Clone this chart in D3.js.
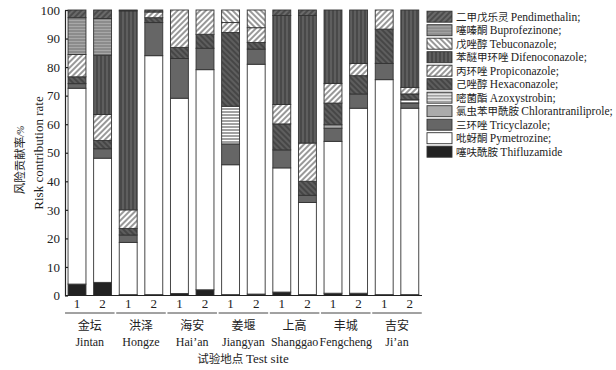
<!DOCTYPE html>
<html>
<head>
<meta charset="utf-8">
<script src="https://cdn.jsdelivr.net/npm/d3@7"></script>
<style>
  body { margin: 0; background: #fff; }
  svg text { font-family: "Liberation Serif", serif; fill: #222; }
  svg .cjk { font-family: "Noto Sans CJK SC", sans-serif; }
</style>
</head>
<body>
<div class="main"></div>
<script>
//// data
const sitesCn = ['金坛', '洪泽', '海安', '姜堰', '上高', '丰城', '吉安'];
const sitesEn = ['Jintan', 'Hongze', 'Hai\u2019an', 'Jiangyan', 'Shanggao', 'Fengcheng', 'Ji\u2019an'];
const samples = ['1', '2'];

// stack order, bottom to top
const pesticideKeys = ['thifl', 'pyme', 'tricy', 'chlor', 'azoxy', 'hexa', 'propi', 'difeno', 'tebu', 'bupro', 'pendi'];
const pesticideCn = ['噻呋酰胺', '吡蚜酮', '三环唑', '氯虫苯甲酰胺', '嘧菌酯', '己唑醇', '丙环唑', '苯醚甲环唑', '戊唑醇', '噻嗪酮', '二甲戊乐灵'];
const pesticideEn = ['Thifluzamide', 'Pymetrozine', 'Tricyclazole', 'Chlorantraniliprole', 'Azoxystrobin', 'Hexaconazole', 'Propiconazole', 'Difenoconazole', 'Tebuconazole', 'Buprofezinone', 'Pendimethalin'];

// values per bar: Jintan1, Jintan2, Hongze1, Hongze2, ... Ji'an2
const thifl  = [4.0, 4.6, 0.3, 0.3, 0.7, 2.0, 0.3, 0.5, 1.2, 0.3, 0.8, 0.8, 0.3, 0.3];
const pyme   = [68.6, 43.5, 18.3, 83.7, 68.4, 77.1, 45.5, 80.5, 43.5, 32.3, 53.2, 64.8, 75.3, 65.3];
const tricy  = [1.6, 3.3, 2.6, 11.6, 13.9, 7.5, 7.3, 5.3, 6.3, 2.5, 4.6, 5.0, 5.7, 1.8];
const chlor  = [0, 0, 0, 0, 0, 0, 0, 0, 0, 0, 1.2, 0, 0, 0];
const azoxy  = [0, 0, 0, 0, 0, 0, 13.2, 0, 0, 0, 0, 0, 0, 1.2];
const hexa   = [2.4, 2.9, 2.3, 1.7, 3.9, 4.9, 25.8, 2.3, 9.1, 4.9, 7.6, 6.4, 12.0, 2.0];
const propi  = [7.8, 9.1, 6.5, 2.0, 13.1, 8.5, 3.5, 5.2, 6.8, 13.4, 6.9, 4.3, 6.7, 2.3];
const difeno = [0, 20.8, 69.7, 0, 0, 0, 0, 0, 31.2, 44.7, 25.7, 18.7, 0, 27.1];
const tebu   = [0, 0, 0, 0, 0, 0, 4.4, 6.2, 0, 0, 0, 0, 0, 0];
const bupro  = [12.9, 12.8, 0, 0, 0, 0, 0, 0, 0, 0, 0, 0, 0, 0];
const pendi  = [2.7, 3.0, 0.3, 0.7, 0, 0, 0, 0, 1.9, 1.9, 0, 0, 0, 0];
const yTicks = [0, 10, 20, 30, 40, 50, 60, 70, 80, 90, 100];

const series = { thifl, pyme, tricy, chlor, azoxy, hexa, propi, difeno, tebu, bupro, pendi };

//// layout
const width = 616;
const height = 370;
const margin = { left: 65, top: 10, bottom: 295.5 };

const svg = d3.select('.main').append('svg')
  .attr('width', width)
  .attr('height', height);

// patterns
const defs = svg.append('defs');
function hatch(id, bg, line, kind) {
  const s = kind === 'h' ? 3 : 4;
  const p = defs.append('pattern')
    .attr('id', id)
    .attr('patternUnits', 'userSpaceOnUse')
    .attr('width', s).attr('height', s);
  if (kind === 'd1' || kind === 'd2') p.attr('patternTransform', `rotate(${kind === 'd1' ? 45 : -45})`);
  p.append('rect').attr('width', s).attr('height', s).attr('fill', bg);
  if (kind === 'h') {
    p.append('line').attr('x1', 0).attr('x2', s).attr('y1', 1).attr('y2', 1)
      .attr('stroke', line).attr('stroke-width', 1);
  } else {
    p.append('line').attr('x1', 1).attr('x2', 1).attr('y1', 0).attr('y2', s)
      .attr('stroke', line).attr('stroke-width', 1);
  }
}
hatch('p-pendi', '#6a6a6a', '#2e2e2e', 'd1');
hatch('p-bupro', '#a8a8a8', '#707070', 'h');
hatch('p-tebu', '#ffffff', '#333', 'd2');
hatch('p-difeno', '#5e5e5e', '#333', 'v');
hatch('p-propi', '#ffffff', '#333', 'd1');
hatch('p-hexa', '#5e5e5e', '#2e2e2e', 'd2');
hatch('p-azoxy', '#ffffff', '#444', 'h');

const fills = {
  thifl: '#222',
  pyme: '#fff',
  tricy: '#666',
  chlor: '#aaa',
  azoxy: 'url(#p-azoxy)',
  hexa: 'url(#p-hexa)',
  propi: 'url(#p-propi)',
  difeno: 'url(#p-difeno)',
  tebu: 'url(#p-tebu)',
  bupro: 'url(#p-bupro)',
  pendi: 'url(#p-pendi)'
};

const bars = [];
sitesCn.forEach((s, i) => samples.forEach(n => bars.push(i + '-' + n)));
const rows = bars.map((b, i) => {
  const r = { bar: b };
  pesticideKeys.forEach(k => r[k] = series[k][i]);
  return r;
});

const xScale = d3.scaleBand()
  .domain(bars)
  .range([64.2, 422.6])
  .paddingInner(0.3)
  .paddingOuter(0.15);

const yScale = d3.scaleLinear()
  .domain([0, 100])
  .range([margin.bottom, margin.top]);

const stacked = d3.stack().keys(pesticideKeys)(rows);

svg.append('g').selectAll('g')
  .data(stacked)
  .enter()
  .append('g')
  .attr('fill', d => fills[d.key])
  .selectAll('rect')
  .data(d => d.filter(e => e[1] - e[0] > 0))
  .enter()
  .append('rect')
  .attr('x', d => xScale(d.data.bar))
  .attr('y', d => yScale(d[1]))
  .attr('width', xScale.bandwidth())
  .attr('height', d => yScale(d[0]) - yScale(d[1]))
  .attr('stroke', '#333')
  .attr('stroke-width', 0.9);

// y axis
const yAxis = d3.axisLeft(yScale).tickValues(yTicks).tickSizeInner(-3).tickSizeOuter(0).tickPadding(5);
const yg = svg.append('g')
  .attr('transform', `translate(${margin.left}, 0)`)
  .call(yAxis);
yg.selectAll('text').attr('font-size', 13).style('font-family', '"Liberation Serif", serif');
yg.selectAll('path, line').attr('stroke', '#222').attr('stroke-width', 1.2);

// x axis line
svg.append('line')
  .attr('x1', margin.left).attr('x2', 422)
  .attr('y1', margin.bottom).attr('y2', margin.bottom)
  .attr('stroke', '#222').attr('stroke-width', 1.2);

// sample numbers
svg.append('g').selectAll('text')
  .data(bars)
  .enter()
  .append('text')
  .attr('x', d => xScale(d) + xScale.bandwidth() / 2)
  .attr('y', 308)
  .attr('text-anchor', 'middle')
  .attr('font-size', 13)
  .text(d => d.split('-')[1]);

// group underlines and site names
const groups = svg.append('g').selectAll('g')
  .data(sitesCn.map((c, i) => ({ cn: c, en: sitesEn[i], a: bars[i * 2], b: bars[i * 2 + 1] })))
  .enter()
  .append('g');
groups.append('line')
  .attr('x1', d => xScale(d.a) - 3)
  .attr('x2', d => xScale(d.b) + xScale.bandwidth() + 3)
  .attr('y1', 313).attr('y2', 313)
  .attr('stroke', '#444').attr('stroke-width', 1);
groups.append('text')
  .attr('class', 'cjk')
  .attr('x', d => (xScale(d.a) + xScale(d.b) + xScale.bandwidth()) / 2)
  .attr('y', 330)
  .attr('text-anchor', 'middle')
  .attr('font-size', 12)
  .text(d => d.cn);
groups.append('text')
  .attr('x', d => (xScale(d.a) + xScale(d.b) + xScale.bandwidth()) / 2)
  .attr('y', 346)
  .attr('text-anchor', 'middle')
  .attr('font-size', 12)
  .text(d => d.en);

const xt = svg.append('text')
  .attr('x', 243).attr('y', 363)
  .attr('text-anchor', 'middle');
xt.append('tspan').attr('class', 'cjk').attr('font-size', 11.5).text('试验地点 ');
xt.append('tspan').attr('font-size', 13).text('Test site');

// y titles
const yt = svg.append('text')
  .attr('transform', 'translate(24, 160) rotate(-90)')
  .attr('text-anchor', 'middle');
yt.append('tspan').attr('class', 'cjk').attr('font-size', 11.5).text('风险贡献率');
yt.append('tspan').attr('font-size', 10).attr('font-style', 'italic').text('/%');
svg.append('text')
  .attr('transform', 'translate(43, 153) rotate(-90)')
  .attr('text-anchor', 'middle')
  .attr('font-size', 13)
  .text('Risk contribution rate');

// legend, top item first
const legendKeys = pesticideKeys.slice().reverse();
const legend = svg.append('g').selectAll('g')
  .data(legendKeys)
  .enter()
  .append('g')
  .attr('transform', (d, i) => `translate(427, ${16.7 + i * 13.5})`);
legend.append('rect')
  .attr('x', 0).attr('y', -5.5)
  .attr('width', 25).attr('height', 11)
  .attr('fill', d => fills[d])
  .attr('stroke', '#333').attr('stroke-width', 0.9);
const lt = legend.append('text')
  .attr('x', 29).attr('y', 4);
lt.append('tspan').attr('class', 'cjk').attr('font-size', 10.5)
  .text(d => pesticideCn[pesticideKeys.indexOf(d)] + ' ');
lt.append('tspan').attr('font-size', 11.5)
  .text((d, i) => pesticideEn[pesticideKeys.indexOf(d)] + (i < legendKeys.length - 1 ? ';' : ''));
</script>
</body>
</html>
